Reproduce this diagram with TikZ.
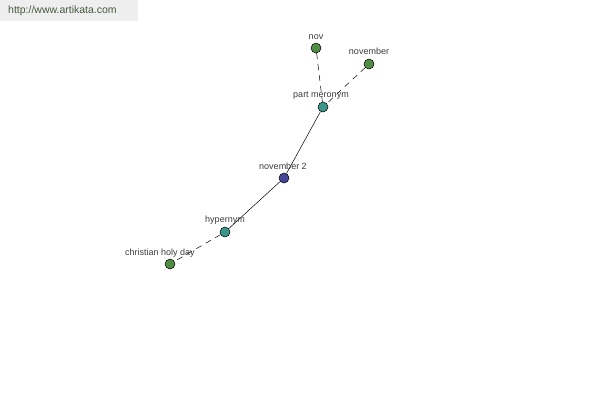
\documentclass[tikz,border=0pt]{standalone}
\usepackage{fontspec}
\setmainfont{Liberation Sans}
\definecolor{ngreen}{RGB}{80,140,70}
\definecolor{nteal}{RGB}{60,150,140}
\definecolor{nblue}{RGB}{70,70,150}
\definecolor{lblgray}{RGB}{60,60,60}
\definecolor{wmbg}{RGB}{238,238,238}
\definecolor{wmtext}{RGB}{70,90,60}
\pgfdeclarelayer{bg}
\pgfdeclarelayer{edges}
\pgfsetlayers{bg,edges,main}
\begin{document}
\begin{tikzpicture}[x=1pt,y=-1pt,
  dot/.style={circle,draw=black,line width=0.5pt,minimum size=10pt,inner sep=0pt},
  greendot/.style={dot,fill=ngreen},
  tealdot/.style={dot,fill=nteal},
  bluedot/.style={dot,fill=nblue},
  lbl/.style={font=\fontsize{9}{10}\selectfont,text=lblgray,inner sep=0pt},
  dashedge/.style={dash pattern=on 6pt off 5pt,line width=0.5pt},
  solidedge/.style={line width=0.5pt}]
\useasboundingbox (0,0) rectangle (600,400);
\begin{pgfonlayer}{bg}
\fill[white] (0,0) rectangle (600,400);
\fill[wmbg] (0,0) rectangle (138,21);
\end{pgfonlayer}
\node[font=\fontsize{10.5}{12}\selectfont,text=wmtext,anchor=west,inner sep=0pt] (wm) at (8,11) {http://www.artikata.com};

\node[greendot] (nov) at (316,48) {};
\node[greendot] (november) at (369,64) {};
\node[tealdot] (pm) at (323,107) {};
\node[bluedot] (n2) at (284,178) {};
\node[tealdot] (hyp) at (225,232) {};
\node[greendot] (chd) at (170,264) {};

\node[lbl] (lnov) at (316,37) {nov};
\node[lbl] (lnovember) at (369,51) {november};
\node[lbl] (lpm) at (321,96) {part meronym};
\node[lbl] (ln2) at (283,166) {november 2};
\node[lbl] (lhyp) at (225,220) {hypernym};
\node[lbl] (lchd) at (160,253) {christian holy day};

\begin{pgfonlayer}{edges}
\draw[dashedge] (nov) -- (pm);
\draw[dashedge] (november) -- (pm);
\draw[solidedge] (pm) -- (n2);
\draw[solidedge] (n2) -- (hyp);
\draw[dashedge] (hyp) -- (chd);
\end{pgfonlayer}
\end{tikzpicture}
\end{document}
